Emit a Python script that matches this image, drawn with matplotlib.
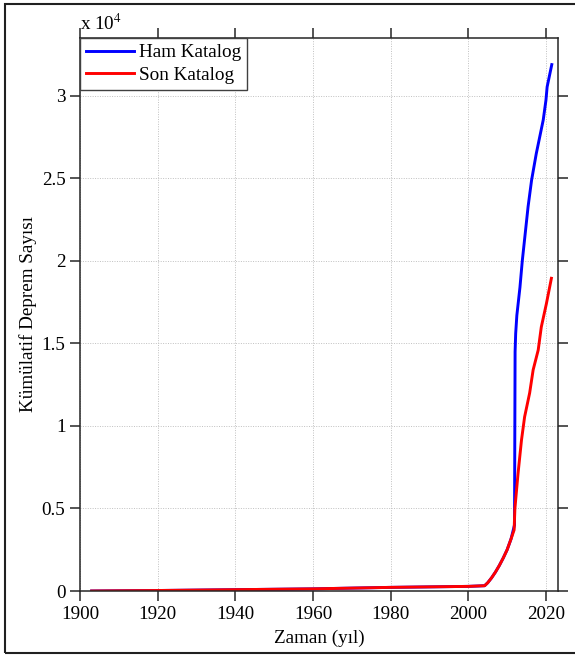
"""Cumulative earthquake count, raw vs declustered catalogue."""

import matplotlib
matplotlib.use("Agg")
import matplotlib.pyplot as plt
import matplotlib.ticker as mticker

plt.rcParams["font.family"] = ["Liberation Serif", "DejaVu Serif"]
plt.rcParams["mathtext.fontset"] = "stix"

# --- data ---
LOW_YEARS = [1903, 1920, 1940, 1960, 1980, 2000, 2004.2, 2005, 2006, 2007,
             2008, 2009, 2010, 2011]
LOW_COUNTS = [0, 30, 80, 130, 220, 280, 320, 500, 800, 1150, 1550, 2000, 2500, 3150]

HAM_YEARS = LOW_YEARS + [2011.9, 2012.05, 2012.2, 2012.5, 2013.3, 2013.9, 2015.4,
                         2016.3, 2017.5, 2019.3, 2020.0, 2020.3, 2021.5]
HAM_COUNTS = LOW_COUNTS + [4000, 14500, 15600, 16700, 18400, 20000, 23300,
                           24900, 26500, 28550, 29750, 30550, 31900]

SON_YEARS = LOW_YEARS + [2011.8, 2012.0, 2012.8, 2013.7, 2014.5, 2015.8, 2016.7,
                         2018.0, 2018.8, 2020.1, 2021.4]
SON_COUNTS = LOW_COUNTS + [3700, 5000, 7100, 9150, 10550, 12000, 13400,
                           14600, 16000, 17400, 18950]

X_TICKS = [1900, 1920, 1940, 1960, 1980, 2000, 2020]
Y_TICKS = [0, 5000, 10000, 15000, 20000, 25000, 30000]

AXIS_COL = "#262626"
GRID_COL = "#c0c0c0"
FS = 13.8


def main() -> None:
    fig = plt.figure(figsize=(5.75, 6.58), dpi=100)
    ax = fig.add_axes([80 / 575, 1 - 591 / 658, (558 - 80) / 575, (591 - 37.7) / 658])

    ax.plot(HAM_YEARS, HAM_COUNTS, color="#0000ff", linewidth=2.1, label="Ham Katalog")
    ax.plot(SON_YEARS, SON_COUNTS, color="#ff0000", linewidth=2.1, label="Son Katalog")

    ax.set_xlim(1900, 2023.1)
    ax.set_ylim(0, 33530)
    ax.set_xticks(X_TICKS)
    ax.set_yticks(Y_TICKS)
    ax.yaxis.set_major_formatter(mticker.FuncFormatter(lambda v, _: f"{v / 1e4:g}"))

    ax.grid(True, color=GRID_COL, linestyle=(0, (1, 1.5)), linewidth=0.7)
    ax.tick_params(direction="out", length=7, width=1.1, color=AXIS_COL,
                   labelsize=FS, top=True, right=True, pad=3.5)
    for spine in ax.spines.values():
        spine.set_color(AXIS_COL)
        spine.set_linewidth(1.1)

    ax.set_xlabel("Zaman (yıl)", fontsize=FS, labelpad=5)
    ax.set_ylabel("Kümülatif Deprem Sayısı", fontsize=FS, labelpad=3)
    ax.text(0, 1.006, r"x 10$^{4}$", transform=ax.transAxes, ha="left", va="bottom",
            fontsize=FS)

    leg = ax.legend(loc="upper left", borderaxespad=0, fancybox=False, fontsize=FS,
                    handlelength=2.5, handletextpad=0.25, labelspacing=0.28,
                    borderpad=0.32, framealpha=1)
    leg.get_frame().set_edgecolor("#404040")
    leg.get_frame().set_linewidth(1.0)

    # outer frame (right edge falls outside the picture)
    frame = plt.Rectangle((5 / 575, 1 - 653 / 658), 1.2, (653 - 4) / 658,
                          transform=fig.transFigure, fill=False, edgecolor="#202020",
                          linewidth=1.5, clip_on=False)
    fig.patches.append(frame)

    fig.savefig("out.png", dpi=100, facecolor="white")
    plt.close(fig)


if __name__ == "__main__":
    main()
